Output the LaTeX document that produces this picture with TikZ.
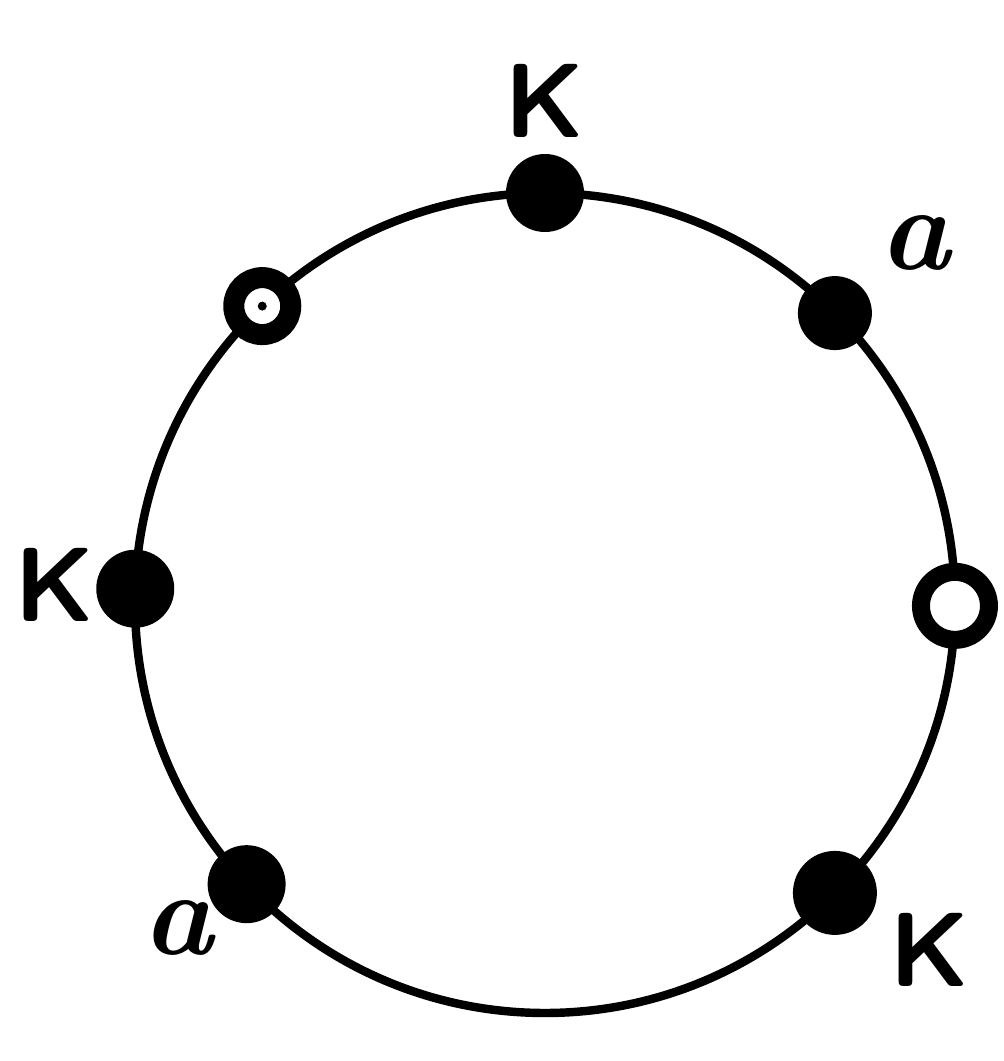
\documentclass[tikz,border=0pt]{standalone}
\usepackage{fontspec}
\usetikzlibrary{calc}
\begin{document}
\begin{tikzpicture}[
  ring/.style={line width=2.4pt},
  fulldot/.style={circle, fill=black, inner sep=0pt, minimum size=0.78cm},
  opendot/.style 2 args={circle, draw=black, fill=white, line width=#2, inner sep=0pt, minimum size=#1},
  klabel/.style={font=\fontsize{30}{30}\selectfont\sffamily\bfseries},
  alabel/.style={font=\fontsize{34}{34}\selectfont\bfseries\itshape}
]
\useasboundingbox (0,0) rectangle (10.04,10.61);
\coordinate (c) at (5.45,4.58);
\draw[ring] (c) circle (4.10);
\node[fulldot] (k1) at ($(c)+(90:4.10)$) {};
\node[fulldot, minimum size=0.74cm] (a1) at ($(c)+(45:4.10)$) {};
\node[opendot={0.57cm}{0.21cm}] (o1) at ($(c)+(133.6:4.10)$) {};
\fill (o1.center) circle (0.045);
\node[fulldot] (k2) at ($(c)+(178:4.10)$) {};
\node[opendot={0.68cm}{0.18cm}] (o2) at ($(c)+(-0.4:4.10)$) {};
\node[fulldot] (a2) at ($(c)+(-136.7:4.10)$) {};
\node[fulldot, minimum size=0.84cm] (k3) at ($(c)+(-45:4.10)$) {};
\node[klabel] (lk1) at (5.45,9.60) {K};
\node[alabel] (la1) at (9.15,8.18) {a};
\node[klabel] (lk2) at (0.55,4.76) {K};
\node[alabel] (la2) at (1.78,1.33) {a};
\node[klabel] (lk3) at (9.30,1.11) {K};
\end{tikzpicture}
\end{document}
